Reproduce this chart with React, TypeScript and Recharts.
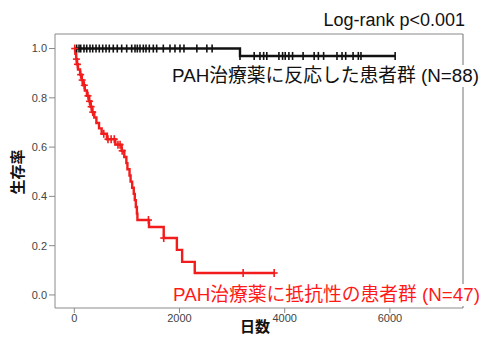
import React from "react";
import {
  ComposedChart,
  Line,
  Scatter,
  XAxis,
  YAxis,
  ReferenceLine,
} from "recharts";

// responders (N=88): step times / survival after each step
const respTimes = [0, 3150, 6100];
const respSurv = [1.0, 0.97, 0.97];
const respCensor = [
  45, 90, 122, 184, 236, 298, 350, 413, 475, 540, 603, 665, 741, 817, 901, 996,
  1091, 1154, 1198, 1249, 1312, 1363, 1426, 1502, 1566, 1692, 1819, 1914, 2009,
  2085, 2330, 2520, 2620, 3150, 3420, 3530, 3600, 3660, 3890, 3960, 4010, 4080,
  4150, 4350, 4560, 4640, 4740, 4994, 5090, 5160, 5300, 5400, 5450, 6100,
];

// resistant (N=47)
const resTimes = [
  0, 20, 35, 50, 70, 110, 140, 170, 200, 240, 280, 310, 340, 380, 420, 470, 520,
  620, 780, 900, 950, 990, 1010, 1050, 1070, 1100, 1130, 1150, 1170, 1190, 1200,
  1420, 1700, 1950, 2050, 2290, 3800,
];
const resSurv = [
  1.0, 0.979, 0.957, 0.936, 0.915, 0.894, 0.872, 0.851, 0.83, 0.808, 0.786,
  0.764, 0.742, 0.72, 0.698, 0.676, 0.654, 0.632, 0.61, 0.585, 0.56, 0.535,
  0.51, 0.485, 0.46, 0.435, 0.41, 0.385, 0.357, 0.33, 0.304, 0.276, 0.231,
  0.183, 0.134, 0.089, 0.089,
];
const resCensor = [
  8, 40, 60, 120, 150, 190, 260, 290, 320, 350, 560, 640, 700, 760, 830, 870,
  910, 1410, 1700, 3210, 3800,
];

const xTicks = [0, 2000, 4000, 6000];
const yTicks = [0, 0.2, 0.4, 0.6, 0.8, 1.0];
const X_DOMAIN: [number, number] = [-367, 7390];
const Y_DOMAIN: [number, number] = [-0.053, 1.059];

const survAt = (times: number[], surv: number[], t: number) => {
  let s = surv[0];
  for (let i = 0; i < times.length; i++) if (times[i] <= t) s = surv[i];
  return s;
};

const toRows = (times: number[], surv: number[]) =>
  times.map((t, i) => ({ t, s: surv[i] }));

const respLine = toRows(respTimes, respSurv);
const resLine = toRows(resTimes, resSurv);
const respMarks = respCensor.map((t) => ({ t, s: survAt(respTimes, respSurv, t) }));
const resMarks = resCensor.map((t) => ({ t, s: survAt(resTimes, resSurv, t) }));

const BLACK = "#111";
const RED = "#f21c1c";
const AXIS = "#8a8a8a";
const FONT = '"Liberation Sans", Arial, "Noto Sans CJK JP", sans-serif';
const JP = '"Liberation Sans", "Noto Sans CJK JP", sans-serif';

const BlackTick = (props: any) => {
  const { cx, cy } = props;
  return (
    <line x1={cx} x2={cx} y1={cy - 4} y2={cy + 4} stroke={BLACK} strokeWidth={1.6} />
  );
};

const RedPlus = (props: any) => {
  const { cx, cy } = props;
  return (
    <g stroke={RED} strokeWidth={1.6}>
      <line x1={cx} x2={cx} y1={cy - 4} y2={cy + 4} />
      <line x1={cx - 3.5} x2={cx + 3.5} y1={cy} y2={cy} />
    </g>
  );
};

export default function App() {
  return (
    <div
      style={{
        position: "absolute",
        left: 0,
        top: 0,
        width: 483,
        height: 337,
        overflow: "hidden",
        background: "#fff",
        fontFamily: FONT,
      }}
    >
      <ComposedChart
        width={483}
        height={337}
        margin={{ top: 34, right: 20, bottom: 9, left: 15 }}
      >
        <XAxis
          type="number"
          dataKey="t"
          domain={X_DOMAIN}
          ticks={xTicks}
          allowDataOverflow
          height={20}
          stroke={AXIS}
          tickSize={5}
          tickMargin={1}
          tick={{ fill: "#444", fontSize: 11, fontFamily: FONT }}
        />
        <YAxis
          type="number"
          dataKey="s"
          domain={Y_DOMAIN}
          ticks={yTicks}
          allowDataOverflow
          width={40}
          stroke={AXIS}
          tickSize={6}
          tickMargin={2}
          tickFormatter={(v: number) => v.toFixed(1)}
          tick={{ fill: "#444", fontSize: 11, fontFamily: FONT }}
        />
        <ReferenceLine y={Y_DOMAIN[1]} stroke={AXIS} strokeWidth={1.2} />
        <ReferenceLine x={X_DOMAIN[1]} stroke={AXIS} strokeWidth={1.2} />
        <Line
          data={respLine}
          dataKey="s"
          type="stepAfter"
          stroke={BLACK}
          strokeWidth={2.4}
          dot={false}
          activeDot={false}
          isAnimationActive={false}
        />
        <Line
          data={resLine}
          dataKey="s"
          type="stepAfter"
          stroke={RED}
          strokeWidth={2.4}
          dot={false}
          activeDot={false}
          isAnimationActive={false}
        />
        <Scatter
          data={respMarks}
          dataKey="s"
          shape={BlackTick}
          isAnimationActive={false}
        />
        <Scatter
          data={resMarks}
          dataKey="s"
          shape={RedPlus}
          isAnimationActive={false}
        />
      </ComposedChart>

      <div
        style={{
          position: "absolute",
          right: 18,
          top: 10,
          fontSize: 18,
          lineHeight: "20px",
          color: "#111",
          fontFamily: FONT,
          whiteSpace: "nowrap",
        }}
      >
        Log-rank p&lt;0.001
      </div>
      <div
        style={{
          position: "absolute",
          left: 172,
          top: 65,
          fontSize: 18.8,
          lineHeight: "22px",
          color: "#111",
          background: "#fff",
          fontFamily: JP,
          whiteSpace: "nowrap",
        }}
      >
        PAH治療薬に反応した患者群 (N=88)
      </div>
      <div
        style={{
          position: "absolute",
          left: 173,
          top: 284,
          fontSize: 18.8,
          lineHeight: "22px",
          color: "#ff1a1a",
          background: "#fff",
          fontFamily: JP,
          whiteSpace: "nowrap",
        }}
      >
        PAH治療薬に抵抗性の患者群 (N=47)
      </div>
      <div
        style={{
          position: "absolute",
          left: 18,
          top: 172,
          transform: "translate(-50%, -50%) rotate(-90deg)",
          fontSize: 15,
          fontWeight: "bold",
          lineHeight: "18px",
          color: "#111",
          fontFamily: JP,
          whiteSpace: "nowrap",
        }}
      >
        生存率
      </div>
      <div
        style={{
          position: "absolute",
          left: 255,
          top: 318,
          transform: "translateX(-50%)",
          fontSize: 15,
          fontWeight: "bold",
          lineHeight: "18px",
          color: "#111",
          fontFamily: JP,
          whiteSpace: "nowrap",
        }}
      >
        日数
      </div>
    </div>
  );
}
